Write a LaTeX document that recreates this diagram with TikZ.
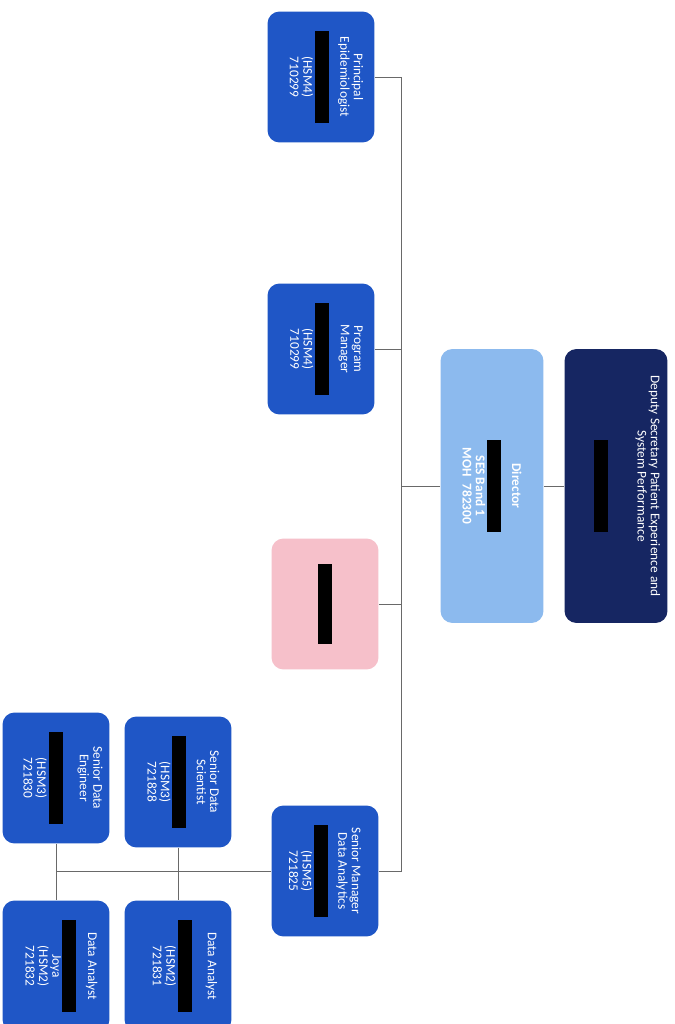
\documentclass[tikz,border=0pt]{standalone}
\usepackage{fontspec}
\setmainfont{Carlito}
\definecolor{boxblue}{RGB}{31,86,198}
\definecolor{dirblue}{RGB}{140,186,238}
\definecolor{navybox}{RGB}{22,38,98}
\definecolor{pinkbox}{RGB}{246,192,202}
\definecolor{linegray}{RGB}{105,105,105}
\newcommand{\redact}[1][1.85cm]{{\color{black}\rule[-0.08cm]{#1}{0.28cm}}}

\begin{document}
\begin{tikzpicture}[x=0.02cm,y=-0.02cm,
  role node/.style={rectangle,rounded corners=0.24cm,fill=boxblue,text=white,rotate=-90,
    minimum width=2.62cm,minimum height=2.14cm,align=center,inner sep=2pt,
    font=\fontsize{7.6}{7.6}\selectfont},
  head node/.style={role node,minimum width=5.48cm,minimum height=2.06cm},
  conn/.style={draw=linegray,line width=0.5pt}]

  \fill[white] (0,0) rectangle (675,1024);
  \useasboundingbox (0,0) rectangle (675,1024);

  % top of the chart (rotated: right side)
  \node[head node,fill=navybox] (dsec) at (616,486)
    {Deputy Secretary Patient Experience and\\System Performance\\[4.2ex]\redact\\\rule{0pt}{0.4cm}};
  \node[head node,fill=dirblue] (dir) at (492,486)
    {\textbf{Director}\\[1.2ex]\redact\\\textbf{SES Band 1}\\\textbf{MOH\enspace 782300}};

  % direct reports
  \node[role node] (pe) at (321,77)
    {Principal\\Epidemiologist\\[1.3ex]\redact\\(HSM4)\\710299\\[-1ex]\strut};
  \node[role node] (pm) at (321,349)
    {Program\\Manager\\[1.3ex]\redact\\(HSM4)\\710299\\[-1ex]\strut};
  \node[role node,fill=pinkbox] (po) at (325,604) {\redact[1.6cm]};
  \node[role node] (smda) at (325,871)
    {Senior Manager\\Data Analytics\\[1.1ex]\redact\\(HSM5)\\721825};

  % data analytics team
  \node[role node] (sds) at (178,782)
    {Senior Data\\Scientist\\[1.1ex]\redact\\(HSM3)\\721828\\[-1ex]\strut};
  \node[role node] (sde) at (56,778)
    {Senior Data\\Engineer\\[2.2ex]\redact\\(HSM3)\\721830\\[-0.5ex]\strut};
  \node[role node] (da2) at (178,966)
    {Data Analyst\\[2ex]\redact\\(HSM2)\\721831\\[-0.5ex]\strut};
  \node[role node] (da1) at (56,966)
    {Data Analyst\\[1.4ex]\redact\\Joya\\(HSM2)\\721832\\[-1ex]\strut};

  \draw[conn] (dsec.south) -- (dir.north);
  \draw[conn] (dir.south) -- ++(-39,0) coordinate (hub);
  \draw[conn] (pe.north) -| (hub);
  \draw[conn] (pm.north) -| (hub);
  \draw[conn] (po.north) -| (hub);
  \draw[conn] (smda.north) -| (hub);

  \draw[conn] (smda.south) -- (smda.south -| sde.east);
  \draw[conn] (sde.east) -- (da1.west);
  \draw[conn] (sds.east) -- (da2.west);

\end{tikzpicture}
\end{document}
